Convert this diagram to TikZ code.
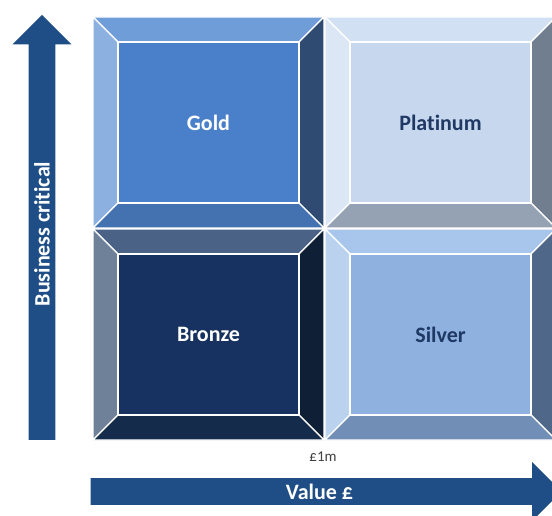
\documentclass[tikz,border=0pt]{standalone}
\usepackage{fontspec}
\setmainfont[Ligatures=NoCommon]{Carlito}
\usepackage{xcolor}
\usepackage{tikz}
\usetikzlibrary{shapes.arrows, positioning}
\definecolor{arrowblue}{HTML}{1F4E86}
\definecolor{darktext}{HTML}{1F3864}
\definecolor{goldface}{HTML}{4A80C9}
\definecolor{goldtop}{HTML}{6F9DD8}
\definecolor{goldleft}{HTML}{8CB0E0}
\definecolor{goldbottom}{HTML}{4472B0}
\definecolor{goldright}{HTML}{2F4B72}
\definecolor{platface}{HTML}{C6D7EE}
\definecolor{plattop}{HTML}{D2E0F3}
\definecolor{platleft}{HTML}{DCE7F6}
\definecolor{platbottom}{HTML}{95A2B4}
\definecolor{platright}{HTML}{707E90}
\definecolor{bronzeface}{HTML}{173260}
\definecolor{bronzetop}{HTML}{4A6285}
\definecolor{bronzeleft}{HTML}{6E8199}
\definecolor{bronzebottom}{HTML}{152B4C}
\definecolor{bronzeright}{HTML}{0F1F36}
\definecolor{silverface}{HTML}{8FB1E0}
\definecolor{silvertop}{HTML}{A8C5EB}
\definecolor{silverleft}{HTML}{BBD2EF}
\definecolor{silverbottom}{HTML}{708EB6}
\definecolor{silverright}{HTML}{4F6789}

% one bevelled square: top-left corner x, y and colour prefix
\newcommand{\bevelbox}[3]{%
  \begin{scope}[shift={(#1,#2)}]
    \filldraw[bevel, fill=#3top] (0,0) -- (231,0) -- (206,25) -- (25,25) -- cycle;
    \filldraw[bevel, fill=#3left] (0,0) -- (25,25) -- (25,186) -- (0,211) -- cycle;
    \filldraw[bevel, fill=#3right] (231,0) -- (231,211) -- (206,186) -- (206,25) -- cycle;
    \filldraw[bevel, fill=#3bottom] (0,211) -- (25,186) -- (206,186) -- (231,211) -- cycle;
    \filldraw[bevel, fill=#3face] (25,25) rectangle (206,186);
  \end{scope}}

\begin{document}
\begin{tikzpicture}[x=1pt, y=-1pt,
  bevel/.style={draw=white, line width=1.3pt, line join=miter},
  axisarrow/.style={single arrow, fill=arrowblue, draw=none, single arrow head extend=15pt,
    single arrow head indent=0pt, minimum width=59pt, inner xsep=0pt, inner ysep=4.5pt,
    text=white, font=\bfseries\fontsize{22}{24}\selectfont},
  tierlabel/.style={font=\bfseries\fontsize{22}{24}\selectfont}]
  \useasboundingbox (0,0) rectangle (552,516);

  \bevelbox{93}{17}{gold}
  \bevelbox{325}{17}{plat}
  \bevelbox{93}{229}{bronze}
  \bevelbox{325}{229}{silver}

  \node[tierlabel, text=white] (gold) at (208.5,122.5) {Gold};
  \node[tierlabel, text=darktext] (platinum) at (440.5,122.5) {Platinum};
  \node[tierlabel, text=white] (bronze) at (208.5,334.5) {Bronze};
  \node[tierlabel, text=darktext] (silver) at (440.5,334.5) {Silver};

  \node[axisarrow, rotate=90, minimum height=425pt] (critical) at (42,234) {Business critical};
  \node[axisarrow, minimum height=471pt] (value) at (319.5,491.5) {Value £};
  \node[font=\fontsize{15}{16}\selectfont, text=black!75] (onem) at (323,457) {£1m};
\end{tikzpicture}
\end{document}
